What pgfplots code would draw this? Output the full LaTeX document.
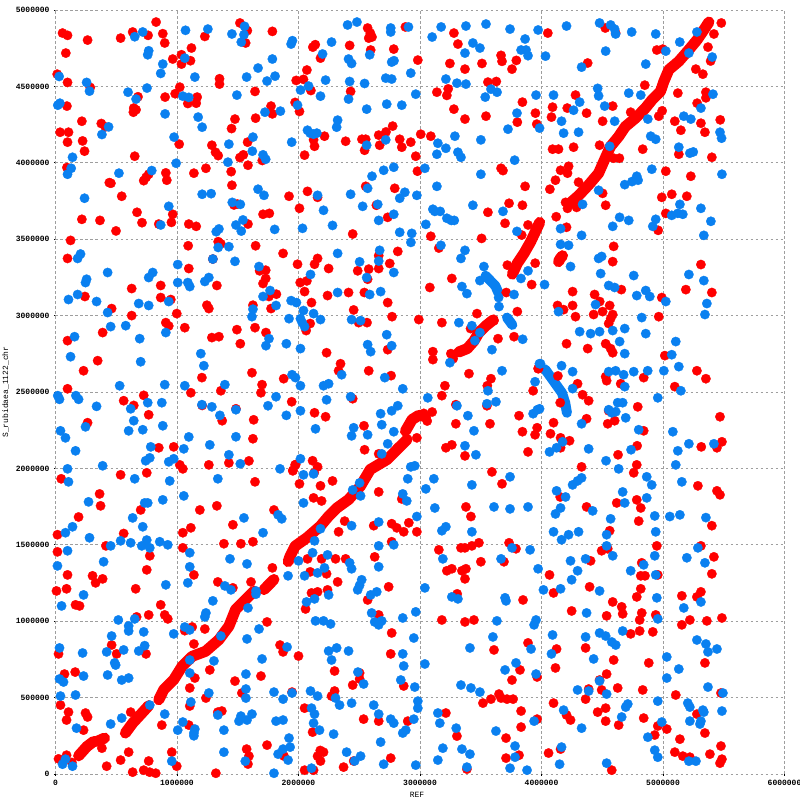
\documentclass[border=0pt]{standalone}
\usepackage{pgfplots}
\pgfplotsset{compat=1.18}
\usepackage{fontspec}
\setmonofont{Liberation Mono}
\definecolor{dotred}{HTML}{FF0000}
\definecolor{dotblue}{HTML}{0A80F0}
\pgfplotsset{
  rline/.style={no markers,dotred,line width=11pt,line cap=round,line join=round},
  bline/.style={no markers,dotblue,line width=10pt,line cap=round,line join=round},
  rdot/.style={only marks,mark=*,mark size=4.7pt,mark options={draw=dotred,fill=dotred,line width=0.3pt}},
  bdot/.style={only marks,mark=*,mark size=4.7pt,mark options={draw=dotblue,fill=dotblue,line width=0.3pt}},
}
\begin{document}
\begin{tikzpicture}
\path[use as bounding box] (-55.5pt,-26pt) rectangle (744.5pt,774pt);
\begin{axis}[
  scale only axis, width=729pt, height=764pt,
  xmin=0, xmax=6000, ymin=0, ymax=5000, clip=false,
  axis line style={draw=none},
  grid=major,
  grid style={draw=black!38,line width=0.9pt,dash pattern=on 2.5pt off 2.5pt},
  xtick={0,1000,2000,3000,4000,5000,6000},
  xticklabels={0,1000000,2000000,3000000,4000000,5000000,6000000},
  ytick={0,500,1000,1500,2000,2500,3000,3500,4000,4500,5000},
  yticklabels={0,500000,1000000,1500000,2000000,2500000,3000000,3500000,4000000,4500000,5000000},
  tick pos=lower, tick align=outside, major tick length=1.5pt,
  tick style={black,line width=0.8pt},
  tick label style={font=\fontsize{8}{9}\selectfont\ttfamily\bfseries},
  xticklabel style={yshift=-1pt}, yticklabel style={xshift=-1pt},
  xlabel={REF}, ylabel={S\_rubidaea\_1122\_chr},
  label style={font=\fontsize{8}{9}\selectfont\ttfamily},
  xlabel style={at={(axis description cs:0.496,-0.027)},anchor=center},
  ylabel style={at={(axis description cs:-0.0685,0.5)},anchor=center},
]
\addplot[rline] coordinates {(190,119)(259,180)(314,213)};
\addplot[rline] coordinates {(341,213)(404,235)};
\addplot[rline] coordinates {(575,268)(635,333)(699,388)(767,447)};
\addplot[rline] coordinates {(850,486)(891,552)(973,617)(1042,705)(1125,770)(1235,803)(1345,879)(1427,967)(1482,1076)(1565,1142)(1634,1196)};
\addplot[rline] coordinates {(1716,1207)(1798,1273)};
\addplot[rline] coordinates {(1915,1390)(1931,1426)(1972,1491)(2069,1546)(2179,1622)(2248,1687)(2316,1741)(2412,1796)(2509,1883)(2591,1993)(2729,2058)(2825,2135)(2894,2189)};
\addplot[rline] coordinates {(2880,2244)(2935,2320)(2990,2347)(3045,2340)};
\addplot[rline] coordinates {(3320,2762)(3389,2784)(3444,2834)(3485,2889)(3540,2932)(3603,2972)};
\addplot[rline] coordinates {(3760,3271)(3801,3342)(3856,3407)(3911,3484)(3950,3550)(3985,3610)};
\addplot[rline] coordinates {(4223,3728)(4305,3785)(4388,3855)(4470,3932)(4512,4008)(4567,4106)(4635,4172)(4690,4237)(4773,4292)(4855,4358)(4910,4412)(4979,4467)(5007,4532)(5048,4609)(5130,4664)(5213,4740)(5282,4806)(5337,4871)(5378,4921)};
\addplot[rline] coordinates {(4140,3353)(4154,3374)(4173,3392)};
\addplot[rdot] table {
828 4921
58 4849
99 4834
264 4803
536 4816
635 4856
762 4834
883 4845
899 4784
85 4718
14 4580
99 4526
286 4493
679 4432
644 4358
663 4347
641 4331
902 4430
217 4272
377 4257
410 4235
94 4371
38 4200
107 4200
99 4135
223 4143
239 4076
652 4043
94 3969
443 3870
456 3866
726 3883
767 3925
746 3905
908 3934
916 3886
545 3781
671 3676
712 3608
850 3599
954 3610
965 3663
217 3630
366 3623
498 3554
124 3492
99 3374
965 4679
1037 4707
1037 4646
1111 4668
1119 4751
1023 4495
985 4452
1089 4388
1158 4390
1166 4430
1018 4122
1139 3932
1238 3964
1287 4115
1317 4069
1339 4047
1229 4827
1518 4915
1579 4865
1565 4784
1785 4860
1350 4550
1350 4515
1642 4467
1774 4371
1785 4320
1477 4286
1647 4292
1449 4224
1581 4135
1518 4034
1546 4052
1584 3984
1702 4015
1446 3942
1452 3853
1469 3724
1496 3730
1708 3663
1760 3669
1584 3599
1922 3781
1097 3599
1158 3584
1339 3484
1361 3470
1092 3457
1647 3457
1873 3407
1295 3370
2569 4882
2591 4849
2605 4823
2578 4816
2880 4889
3279 4849
2138 4773
2118 4757
2421 4768
2594 4738
2784 4744
3312 4777
3667 4703
3675 4664
3793 4670
3757 4613
2181 4685
2982 4672
3246 4650
3510 4650
3370 4613
2069 4607
1981 4539
2041 4546
2102 4473
2429 4467
3139 4462
3232 4484
3221 4441
3559 4528
3628 4532
3843 4397
3279 4351
3543 4305
3950 4325
3370 4286
3801 4266
3961 4253
1972 4395
2008 4336
2775 4240
2720 4202
2660 4181
2214 4174
2388 4141
2522 4154
2553 4154
2668 4115
2544 4082
2833 4154
2850 4102
2924 4135
3006 4187
3089 4174
2124 4150
2132 4108
2050 4050
2965 4043
2979 3945
3667 3964
3683 3949
2553 3846
2792 3833
3865 3846
2074 3813
2157 3774
2008 3702
2641 3722
2734 3643
3733 3735
3843 3722
3559 3676
3700 3604
3889 3593
2446 3534
3089 3519
3507 3505
3837 3527
3155 3442
2817 3420
2660 3392
2157 3374
4052 4849
4525 4882
4610 4849
5480 4915
5419 4843
5370 4757
4949 4738
4998 4744
5392 4666
4380 4653
5270 4613
5328 4580
4850 4508
5122 4456
5353 4462
5353 4425
4280 4443
5281 4390
4091 4364
4212 4358
4586 4371
4371 4325
4082 4299
4734 4331
4993 4340
4965 4305
4503 4272
5097 4272
5471 4281
5312 4259
5147 4213
5345 4200
4091 4089
4140 4089
4264 4102
4478 4115
4833 4089
5130 4056
5402 4036
4594 4030
4641 4030
4157 3951
4223 3977
4214 3932
5023 3945
5229 3912
4115 3886
4305 3873
4069 3827
4503 3800
4990 3774
5072 3794
5196 3781
4528 3722
4198 3741
4214 3702
4289 3708
4121 3647
5023 3669
4206 3578
4960 3558
4594 3453
4586 3353
1097 3308
866 3197
627 3177
242 3125
866 3118
949 3105
462 3046
627 3000
998 3013
1328 3197
1246 3068
1262 3046
908 2954
932 2932
1064 2921
388 2889
99 2836
1493 2908
1642 2921
1732 2889
1287 2856
1345 2862
1521 2816
347 2705
231 2639
1617 2626
1878 2587
1205 2594
99 2521
1700 2548
1691 2495
726 2478
1114 2495
1361 2508
561 2443
644 2412
1944 2436
1207 2412
1485 2390
767 2351
264 2299
1372 2312
1631 2318
1625 2194
850 2135
973 2141
1023 2023
1048 1997
1262 2023
1427 2036
1592 2049
1955 1988
1977 2025
751 1971
536 1958
47 1932
1642 1912
363 1833
371 1755
701 1728
1188 1728
1328 1755
190 1682
1798 1728
1680 3293
1730 3297
1730 3243
1708 3210
1818 3140
1757 3125
1625 3068
1774 3046
1992 3336
2132 3336
2248 3308
2487 3293
2578 3304
2660 3308
2751 3341
2014 3216
2069 3227
2569 3238
2050 3157
2239 3131
2412 3151
2542 3151
2734 3085
2107 3085
2454 3037
2770 2993
2990 2974
3180 2954
2495 2954
2564 2954
2096 2948
2063 2902
3081 3184
3262 3243
3719 3330
3948 3343
3919 3203
3710 3151
3801 3026
3469 3013
3609 2967
3416 2915
3642 2849
3774 2862
2231 2757
2734 2777
3106 2764
3106 2712
3254 2751
3273 2718
2346 2685
2330 2639
2578 2639
2762 2607
3403 2620
3584 2587
3554 2541
3205 2541
3180 2476
3931 2508
3972 2653
2446 2456
3295 2417
3551 2410
2132 2364
2223 2338
3815 2345
3576 2292
3295 2292
2539 2279
3843 2240
3964 2266
3947 2220
2974 2200
3262 2154
3213 2135
2544 2122
2660 2095
3370 2082
3889 2108
2116 2050
2157 2010
1972 2023
1953 1984
3592 1977
3675 1899
2280 1918
2008 1899
2181 1886
2124 1807
2190 1787
2660 1846
2850 1800
3378 1748
3419 1685
2129 1971
3100 2369
3031 2360
3059 2310
2990 2342
5312 3334
4657 3170
4256 3157
5188 3170
5402 3151
4437 3138
4479 3092
4990 3118
4256 3066
4561 3066
4132 3066
4182 3039
4280 2993
4429 3007
4503 3026
4586 3007
4569 2980
4553 2948
4965 2993
4206 2816
4380 2784
4528 2816
4569 2784
4586 2757
5015 2738
5279 2639
5353 2587
4528 2600
4536 2574
4841 2594
4652 2554
4297 2554
5097 2535
3975 2653
4135 2605
4338 2482
4388 2443
4154 2430
4792 2403
4553 2377
4371 2325
4602 2312
4545 2292
5469 2338
4099 2299
4841 2246
4074 2227
4157 2200
4231 2181
4157 2135
4787 2148
4630 2089
5315 2141
5444 2135
5485 2174
4784 2023
4759 1971
4330 2010
5287 1886
5444 1853
5469 1827
4154 1813
4784 1794
4619 1774
4817 1741
4371 1748
16 1566
561 1574
1048 1579
1114 1611
1460 1631
1386 1507
1526 1507
1625 1520
415 1493
16 1454
1048 1480
776 1428
751 1336
99 1303
305 1297
330 1251
388 1277
1139 1303
1785 1349
8 1198
91 1212
660 1212
1336 1257
1460 1218
1609 1257
165 1107
198 1100
866 1107
899 1041
924 1015
668 1028
767 1041
1741 995
1229 949
1125 962
1064 938
1139 851
462 844
1848 844
1873 799
503 786
745 786
25 786
1270 681
1691 641
1477 608
162 667
74 654
1147 628
1105 563
1534 530
1947 536
1238 497
1105 445
41 451
107 405
91 353
247 399
264 373
1336 405
1369 412
619 405
875 320
1097 320
231 287
602 143
382 169
1573 163
1592 117
1584 65
1741 189
1881 117
957 143
25 99
91 123
135 75
536 91
767 85
421 51
998 51
635 12
726 25
775 12
825 5
1320 5
2380 1655
2330 1585
2619 1625
2767 1638
2809 1611
2866 1585
2908 1644
2974 1585
2767 1520
3155 1467
3337 1480
3370 1480
3427 1493
3485 1513
3733 1513
3790 1474
2627 1421
2074 1408
2190 1408
2305 1408
2388 1408
3501 1389
3691 1389
3221 1330
3262 1343
3345 1330
3378 1343
3370 1277
2096 1323
2231 1310
2322 1257
2742 1225
2107 1185
2157 1192
2239 1205
3306 1179
2569 1139
2058 1080
3848 1139
2660 1041
3180 1008
3370 995
3444 1008
2767 923
3889 858
3609 812
2000 772
2759 786
3823 681
2297 674
2503 661
2503 622
2446 582
2866 576
3757 615
3964 635
2297 543
2272 510
3518 464
3584 490
3650 523
3667 497
3716 490
3766 490
3213 399
2050 431
3832 412
2536 359
2660 346
2899 346
3964 359
3832 307
2116 274
3304 248
3708 235
2179 154
2206 143
2157 117
2181 85
3815 123
3708 104
2454 85
2759 104
2371 45
2050 25
2124 25
3386 32
4800 1655
5402 1625
4561 1592
4949 1493
5312 1493
5419 1421
4495 1461
4545 1474
4404 1395
4825 1382
4066 1303
4817 1297
4852 1297
4957 1303
5402 1310
4396 1225
4099 1185
4817 1212
4784 1159
5155 1166
5312 1192
5279 1159
4586 1126
4660 1094
4668 1048
4248 1067
4825 1054
4808 1008
4536 1035
4940 1041
5485 1021
5221 1008
5361 1002
5155 976
4808 936
4734 917
4916 930
4124 818
4363 825
4594 746
4883 727
5345 727
4115 694
4536 654
4478 615
4627 563
4495 550
4833 550
4388 556
5105 517
5477 530
4363 490
4099 464
4528 431
4462 405
4206 386
4239 353
4841 366
5279 392
4528 346
4635 320
4957 314
5031 294
5345 268
4932 255
5139 228
4157 163
4058 137
5477 183
5097 143
5163 117
5221 110
5386 130
5469 71
5485 97
4578 25
};
\addplot[bline] coordinates {(3540,3261)(3582,3226)(3620,3195)(3645,3150)};
\addplot[bline] coordinates {(3716,2987)(3760,2939)};
\addplot[bline] coordinates {(4030,2648)(4099,2572)(4168,2495)(4195,2430)(4209,2364)};
\addplot[bdot] table {
1556 4893
1070 4867
1254 4875
718 4856
652 4825
1452 4843
1551 4838
1529 4790
1950 4799
1939 4777
767 4733
759 4707
1064 4685
883 4646
1785 4679
1667 4620
866 4585
30 4565
1147 4561
1573 4561
1807 4567
1741 4535
256 4526
280 4469
597 4462
753 4489
663 4417
1048 4436
1097 4428
1493 4443
36 4390
19 4377
902 4320
1724 4331
1851 4338
1174 4299
437 4235
1207 4233
382 4185
976 4168
1427 4122
1625 4168
1944 4135
1620 4076
140 4036
1708 4052
1730 4023
993 3997
1419 4004
129 3964
99 3925
792 3949
522 3932
1667 3827
1716 3787
1207 3794
1281 3798
239 3768
1455 3741
1521 3728
932 3715
1543 3626
1485 3593
866 3593
1804 3564
1529 3553
1345 3567
1323 3549
1339 3446
1427 3451
206 3403
182 3374
1295 3370
1477 3355
2404 4902
2481 4921
2759 4882
2759 4856
2905 4889
3174 4889
3378 4895
3543 4908
3741 4875
3972 4869
3100 4823
3865 4810
2272 4790
3435 4784
3493 4751
3370 4718
3832 4738
3873 4738
3889 4701
2198 4712
2586 4707
2412 4679
2437 4650
2767 4659
2786 4668
2924 4587
2223 4541
2421 4532
2544 4519
2718 4554
2767 4548
3213 4548
3304 4521
3378 4515
2083 4502
2017 4476
3584 4482
3634 4462
2181 4436
2965 4449
2412 4417
3537 4430
3955 4443
1992 4377
2726 4384
2850 4377
2561 4351
3798 4325
2322 4279
2314 4233
3724 4220
2074 4213
2096 4194
2124 4187
2151 4194
3287 4174
2718 4150
3501 4150
3147 4128
2561 4115
3213 4095
3139 4056
3312 4069
3337 4036
3779 4017
2784 3971
2701 3951
3040 3964
2605 3912
3501 3925
3139 3846
2569 3833
2429 3794
2157 3787
2875 3807
2833 3768
2974 3787
2528 3715
2652 3728
3435 3722
2206 3689
3106 3696
3122 3682
3166 3682
3683 3682
3221 3637
3257 3623
3282 3623
2784 3663
2660 3623
2280 3590
2033 3571
3048 3597
2833 3545
2932 3538
2925 3479
3798 3551
3172 3460
2668 3427
2322 3407
3370 3427
3337 3374
2503 3352
2660 3357
4206 4895
4478 4915
4569 4902
4602 4875
4610 4843
4742 4856
4940 4843
5279 4856
5138 4790
5023 4731
5213 4718
5405 4692
4528 4731
4033 4698
4330 4626
4858 4646
4462 4487
4470 4438
4718 4456
4817 4443
5411 4449
4099 4443
4314 4397
4520 4371
5312 4358
4264 4344
5171 4305
5229 4286
4875 4286
4165 4272
4602 4272
3984 4227
4182 4194
4305 4200
4899 4174
4940 4154
5469 4200
5482 4161
4561 4108
5130 4102
5221 4063
5249 4071
4908 3958
5485 3925
4784 3912
4795 3886
4745 3877
4685 3857
4470 3820
4338 3728
5139 3728
5072 3656
5122 3669
5163 3663
5312 3702
4643 3643
4718 3623
4940 3630
4916 3584
4586 3584
5394 3617
4157 3569
4330 3525
5336 3525
4157 3466
4223 3460
4495 3387
4470 3374
1006 3334
429 3282
1675 3321
800 3282
767 3249
256 3238
247 3216
1006 3216
1089 3216
1105 3190
1262 3249
1229 3223
182 3138
107 3105
338 3092
685 3079
767 3066
932 3092
1766 3164
1708 3125
1815 3066
1939 3098
1625 3042
1617 2993
429 3020
1922 2980
454 2928
578 2934
908 2889
157 2862
693 2849
1757 2849
1732 2803
1900 2816
124 2731
701 2698
1196 2751
1221 2672
1947 2613
528 2541
899 2548
1064 2541
1394 2548
19 2476
33 2452
168 2476
190 2452
338 2406
759 2430
875 2430
619 2390
1205 2417
1287 2403
1485 2384
1749 2410
1815 2469
1353 2347
1900 2347
644 2312
247 2272
883 2279
602 2246
718 2253
41 2246
82 2200
1097 2206
1485 2207
1270 2154
784 2141
1056 2128
165 2115
1427 2089
776 2069
742 2050
973 2063
932 2043
388 2017
99 1997
1521 2030
1848 1997
652 1932
940 1918
1336 1932
107 1912
1056 1820
272 1781
883 1794
734 1774
759 1774
635 1676
1551 1676
1832 1696
1862 1670
2784 3282
2561 3249
2099 3269
2322 3151
2586 3138
2676 3157
1983 3085
2041 3033
2124 3013
2181 2974
2016 2980
2030 2954
2050 2928
2437 2974
2511 2967
2726 2875
2569 2810
2594 2764
2767 2803
2016 2784
2355 2613
1975 2594
2016 2541
2206 2541
2248 2554
2710 2594
2858 2521
2231 2449
2429 2469
3064 2462
2016 2377
2676 2358
2767 2377
2817 2410
2685 2286
2454 2266
2437 2213
2140 2259
2569 2220
2784 2240
2734 2161
2685 2095
2016 2063
2041 1958
2124 1964
2924 2010
2957 2017
2899 1932
3114 1932
3048 1866
3741 1945
3427 1892
2446 1859
2503 1905
2511 1820
2858 1833
2891 1787
2041 1774
3122 1741
3609 1748
3741 1735
3889 1748
2974 1685
3526 3321
3493 3229
3345 3190
3386 3144
3774 3138
3889 3293
3831 3243
3647 3118
3650 3059
3427 2934
3320 2954
3493 2889
3452 2836
3592 2777
3845 2845
3246 2692
3675 2639
3983 2685
3947 2567
3559 2508
3304 2410
3551 2423
3625 2436
3394 2345
3931 2358
3966 2384
3444 2246
3370 2148
3460 2089
4239 3321
4487 3275
4759 3262
5213 3269
5336 3229
4025 3203
4553 3197
4602 3184
4784 3131
4858 3164
4891 3125
5023 3092
5361 3079
4445 3072
4140 3026
5345 3007
4825 2987
4314 2895
4404 2882
4478 2895
4586 2902
4685 2915
4858 2882
5105 2830
4643 2830
4685 2751
5072 2744
5130 2666
4165 2672
4256 2633
3992 2685
4553 2633
4610 2639
4676 2613
4759 2633
4874 2639
5007 2639
4685 2535
5147 2508
4256 2522
4957 2462
4627 2430
4668 2430
4553 2384
4578 2364
4611 2371
4693 2331
4330 2292
3984 2390
4800 2253
5081 2240
4173 2174
4124 2135
4066 2108
4388 2128
5213 2161
5419 2161
4737 2122
5122 2115
4531 2050
5105 2023
4635 1997
4330 1938
4297 1918
4256 1892
4866 1945
4907 1892
5155 1912
4124 1853
4198 1813
4668 1846
4866 1807
4685 1774
4157 1741
4115 1702
4421 1722
4932 1689
5056 1685
5139 1696
5353 1678
4569 1670
718 1618
140 1618
82 1579
280 1546
1708 1579
454 1493
536 1526
619 1513
751 1531
710 1493
776 1480
858 1520
924 1500
99 1461
1105 1448
1436 1408
1576 1375
396 1389
16 1362
1105 1356
1914 1297
1089 1251
908 1238
1394 1231
1444 1205
1650 1198
1650 1177
231 1172
1295 1133
50 1100
1584 1087
1238 1054
1229 1028
652 1015
517 1008
602 969
602 936
1064 962
1105 943
1675 949
726 930
973 917
462 903
1361 903
1576 884
734 840
685 805
33 825
561 812
421 799
223 792
1906 831
1700 753
1105 746
1304 740
487 727
495 713
1105 661
1567 654
231 641
429 648
545 615
602 628
33 622
66 602
1567 556
1567 497
1262 530
1798 536
1873 490
1947 530
41 510
165 517
1114 471
776 451
899 392
1336 386
545 366
454 327
1048 340
173 300
1006 287
1147 294
1139 268
1139 250
1386 287
1526 379
1510 346
1576 353
1617 392
1815 346
1873 353
1922 235
1931 176
1873 163
1832 130
1386 143
1914 91
1562 84
957 84
82 97
58 64
140 51
1798 5
2181 1605
2437 1625
2660 1649
3213 1618
3180 1592
3427 1585
2132 1526
2660 1493
2784 1500
3757 1480
3906 1467
2116 1448
2239 1434
3188 1408
3667 1408
2000 1395
2660 1356
2421 1382
2437 1343
2214 1349
2157 1316
2050 1297
3972 1343
2520 1271
2487 1205
2503 1235
3040 1218
2248 1172
2644 1192
2594 1172
3262 1159
3312 1146
3700 1153
3708 1133
2132 1146
2066 1126
2965 1061
2602 1054
2858 1021
2140 1002
2206 1002
2264 982
2627 995
2660 976
2685 1002
3633 1002
3955 1008
3939 976
2949 890
3600 897
3411 825
3914 818
2248 805
2314 825
2412 805
2858 786
2272 746
3040 720
2866 707
3790 727
3700 681
3955 654
2489 667
2536 589
2842 615
2957 569
3337 582
3419 563
3493 536
2099 543
2157 510
2305 497
2338 451
2437 464
2619 451
2982 477
2982 431
2107 431
2132 392
2660 392
3147 399
2759 359
2784 333
2949 359
2124 333
3163 333
3939 346
3298 300
2883 287
2858 268
3625 281
2173 287
2289 261
2676 209
3188 169
3345 163
3411 130
3782 183
3782 110
2396 143
2511 117
2462 85
3147 91
2701 64
2965 58
2107 38
3386 45
3741 38
3881 25
4099 1585
4165 1533
4223 1566
4305 1585
4536 1566
4940 1585
4536 1493
5287 1480
4586 1428
4932 1428
5196 1415
4363 1408
4239 1395
5345 1382
4841 1369
4297 1330
4734 1330
4940 1303
4248 1271
4016 1205
4157 1212
4478 1198
4949 1153
5312 1126
5171 1087
4371 1054
4957 1015
4668 936
4478 923
4528 903
4091 910
4363 897
4578 864
4611 844
5279 877
5353 851
5370 799
5444 818
4082 786
4429 753
5031 766
5130 687
5031 628
4478 609
5370 569
4297 550
4388 543
4536 523
5493 530
4957 477
5204 464
5221 438
4182 418
5328 418
5336 405
5485 412
4710 458
4693 438
4660 373
5221 346
5312 346
5304 327
4330 300
4990 340
4875 241
4165 176
4932 156
4957 110
5213 84
5271 84
4149 64
4536 71
};
\end{axis}
\end{tikzpicture}
\end{document}
